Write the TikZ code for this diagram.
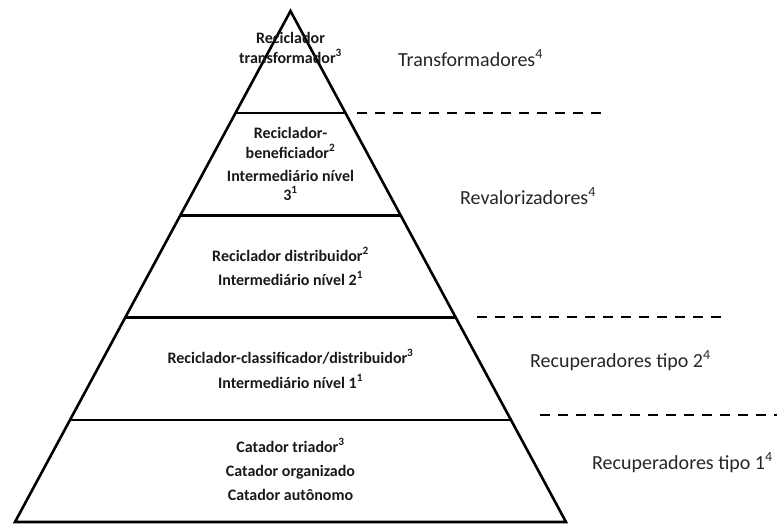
\documentclass[tikz,border=0pt]{standalone}
\usepackage{fontspec}
\setmainfont{Carlito}
\usetikzlibrary{calc}
\begin{document}
\begin{tikzpicture}[x=1pt,y=-1pt,
  level/.style={font=\fontsize{16}{19}\selectfont\bfseries, inner sep=0pt, anchor=base, text=black!90},
  group/.style={font=\fontsize{20}{24}\selectfont, inner sep=0pt, anchor=base west, text=black!85},
  edge/.style={line width=2.6pt, line join=miter},
  tier/.style={line width=2.4pt},
  divider/.style={line width=2.2pt, dash pattern=on 10pt off 8pt}]
\useasboundingbox (0,0) rectangle (777,523);

% pyramid outline
\coordinate (apex) at (290.5,11);
\coordinate (bl) at (15,522);
\coordinate (br) at (566,522);
\draw[edge] (bl) -- (apex) -- (br) -- cycle;

% four tiers of equal height
\foreach \t/\n in {0.2/1,0.4/2,0.6/3,0.8/4}
  \draw[tier] ($(apex)!\t!(bl)$) coordinate (l\n) -- ($(apex)!\t!(br)$) coordinate (r\n);

% dashed group boundaries
\coordinate (d1s) at (357,113); \coordinate (d1e) at (605,113);
\coordinate (d2s) at (477,317); \coordinate (d2e) at (725,317);
\coordinate (d3s) at (540,415); \coordinate (d3e) at (795,415);
\draw[divider] (d1s) -- (d1e);
\draw[divider] (d2s) -- (d2e);
\draw[divider] (d3s) -- (d3e);

% tier 1
\node[level] (a1) at (290.5,43) {Reciclador};
\node[level] (a2) at (290.5,63) {transformador\textsuperscript{3}};
% tier 2
\node[level] (b1) at (290.5,138) {Reciclador-};
\node[level] (b2) at (290.5,158) {beneficiador\textsuperscript{2}};
\node[level] (b3) at (290.5,181) {Intermediário nível};
\node[level] (b4) at (290.5,200) {3\textsuperscript{1}};
% tier 3
\node[level] (c1) at (290.5,261) {Reciclador distribuidor\textsuperscript{2}};
\node[level] (c2) at (290.5,285) {Intermediário nível 2\textsuperscript{1}};
% tier 4
\node[level] (e1) at (290.5,363) {Reciclador-classificador/distribuidor\textsuperscript{3}};
\node[level] (e2) at (290.5,388) {Intermediário nível 1\textsuperscript{1}};
% tier 5
\node[level] (f1) at (290.5,452) {Catador triador\textsuperscript{3}};
\node[level] (f2) at (290.5,476) {Catador organizado};
\node[level] (f3) at (290.5,500) {Catador autônomo};

% group names
\node[group] (g1) at (398,66) {Transformadores\textsuperscript{4}};
\node[group] (g2) at (460,204) {Revalorizadores\textsuperscript{4}};
\node[group] (g3) at (530,367) {Recuperadores tipo 2\textsuperscript{4}};
\node[group] (g4) at (592,469) {Recuperadores tipo 1\textsuperscript{4}};
\end{tikzpicture}
\end{document}
